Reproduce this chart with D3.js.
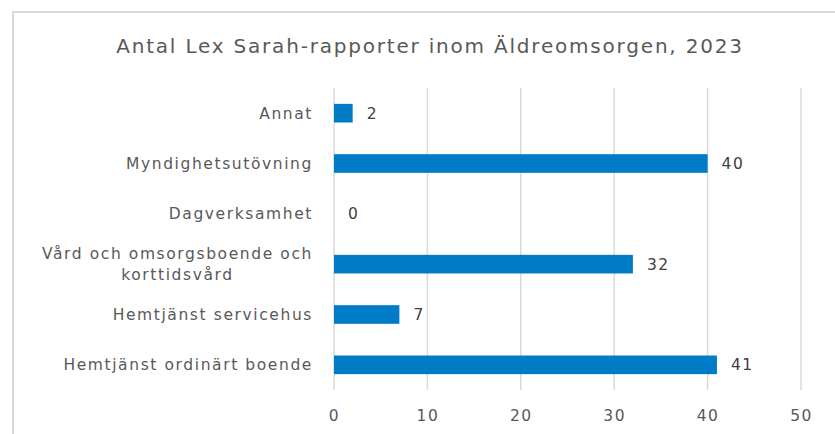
<!DOCTYPE html>
<html>
<head>
<meta charset="utf-8">
<script src="https://cdn.jsdelivr.net/npm/d3@7"></script>
<style>
  body { margin: 0; background: #fff; }
  svg { display: block; font-family: "DejaVu Sans", sans-serif; }
</style>
</head>
<body>
<svg width="835" height="434"></svg>
<script>
const categories = [
    'Annat',
    'Myndighetsutövning',
    'Dagverksamhet',
    'Vård och omsorgsboende och|korttidsvård',
    'Hemtjänst servicehus',
    'Hemtjänst ordinärt boende'
];
const values = [2, 40, 0, 32, 7, 41];
const xTicks = [0, 10, 20, 30, 40, 50];
const title = 'Antal Lex Sarah-rapporter inom Äldreomsorgen, 2023';

const svg = d3.select('svg');
const margens = { left: 334, right: 34, top: 88, bottom: 44 };
const width = 835 - margens.left - margens.right;
const height = 434 - margens.top - margens.bottom;

// ram runt diagrammet
svg.append('path')
    .attr('d', 'M13,434 V12 H835')
    .attr('fill', 'none')
    .attr('stroke', '#d9d9d9')
    .attr('stroke-width', 2);

svg.append('text')
    .attr('x', 430)
    .attr('y', 53)
    .attr('text-anchor', 'middle')
    .style('font-size', '20px')
    .style('letter-spacing', '1.8px')
    .style('fill', '#595959')
    .text(title);

const data = categories.map((c, i) => ({ x: c, y: values[i] }));

const mapX = d3.scaleLinear().domain([0, 50]).range([0, width]);
const mapY = d3.scaleBand()
    .domain(categories)
    .range([0, height])
    .paddingInner(0.63)
    .paddingOuter(0.315);

const g = svg.append('g')
    .attr('transform', `translate(${margens.left}, ${margens.top})`);

// rutnät
g.selectAll('.grid')
    .data(xTicks.slice(1))
    .join('line')
    .attr('class', 'grid')
    .attr('x1', d => mapX(d))
    .attr('x2', d => mapX(d))
    .attr('y1', 0)
    .attr('y2', height)
    .attr('stroke', '#d9d9d9')
    .attr('stroke-width', 1.5);

g.append('line')
    .attr('x1', 0).attr('x2', 0)
    .attr('y1', 0).attr('y2', height)
    .attr('stroke', '#d9d9d9')
    .attr('stroke-width', 1.5);

// x-axel
const xAxis = d3.axisBottom(mapX).tickValues(xTicks).tickSize(0).tickPadding(20);
const gx = g.append('g')
    .attr('transform', `translate(0, ${height})`)
    .call(xAxis);
gx.select('.domain').remove();
gx.selectAll('text')
    .style('font-size', '15.5px')
    .style('letter-spacing', '1.5px')
    .style('font-family', '"DejaVu Sans", sans-serif')
    .style('fill', '#595959');

// kategorier
const labels = g.selectAll('.cat')
    .data(data)
    .join('text')
    .attr('class', 'cat')
    .attr('text-anchor', 'end')
    .style('font-size', '15.5px')
    .style('letter-spacing', '1.6px')
    .style('fill', '#595959');

labels.each(function (d) {
    const lines = d.x.split('|');
    const yc = mapY(d.x) + mapY.bandwidth() / 2;
    const t = d3.select(this);
    const spans = lines.map((l, i) => t.append('tspan')
        .attr('x', -21)
        .attr('y', yc + (i - (lines.length - 1) / 2) * 21)
        .attr('dy', '0.35em')
        .text(l));
    if (spans.length > 1) {
        // centrera raderna under varandra
        const w = spans[0].node().getComputedTextLength();
        spans.forEach(s => s.attr('x', -21 - w / 2).attr('text-anchor', 'middle'));
    }
});

// staplar
g.selectAll('.bar')
    .data(data)
    .join('rect')
    .attr('class', 'bar')
    .attr('x', 0)
    .attr('y', d => mapY(d.x))
    .attr('width', d => mapX(d.y))
    .attr('height', mapY.bandwidth())
    .attr('fill', '#007bc6');

// värden
g.selectAll('.val')
    .data(data)
    .join('text')
    .attr('class', 'val')
    .attr('x', d => mapX(d.y) + 14)
    .attr('y', d => mapY(d.x) + mapY.bandwidth() / 2)
    .attr('dy', '0.35em')
    .style('font-size', '15.5px')
    .style('letter-spacing', '1.5px')
    .style('fill', '#404040')
    .text(d => d.y);
</script>
</body>
</html>
